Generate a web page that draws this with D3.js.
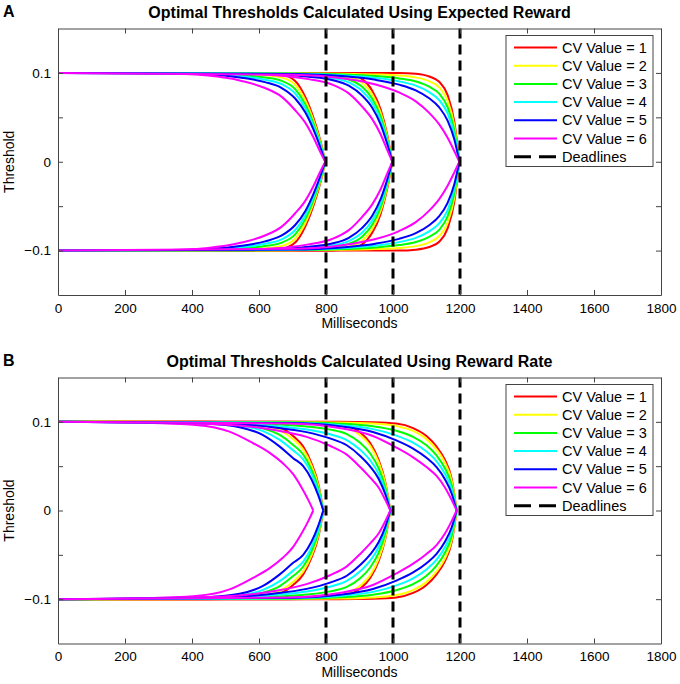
<!DOCTYPE html>
<html>
<head>
<meta charset="utf-8">
<script src="https://cdn.jsdelivr.net/npm/d3@7"></script>
<style>
body { margin: 0; background: #fff; }
text { font-family: "Liberation Sans", Arial, Helvetica, sans-serif; }
</style>
</head>
<body>
<script>
const width = 680
const height = 684

const cvLabels = ["CV Value = 1", "CV Value = 2", "CV Value = 3", "CV Value = 4", "CV Value = 5", "CV Value = 6"]
const cvColors = ["#ff0000", "#ffff00", "#00ff00", "#00ffff", "#0000ff", "#ff00ff"]
const deadlines = [800, 1000, 1200]
const xTicks = [0, 200, 400, 600, 800, 1000, 1200, 1400, 1600, 1800]
const yTicks = [-0.1, -0.05, 0, 0.05, 0.1]
const yLabels = ["\u22120.1", "", "0", "", "0.1"]

// ms before the point where each curve reaches 0
const offsets = [500, 350, 250, 180, 130, 90, 60, 35, 15, 0]

// where the curves meet 0, one row per deadline, one value per CV
const endA = [[798, 798, 798, 798, 798, 798], [998, 998, 998, 998, 998, 998], [1198, 1198, 1198, 1198, 1198, 1198]]
const endB = [[792, 792, 792, 792, 792, 762], [992, 992, 992, 992, 992, 992], [1190, 1190, 1190, 1190, 1190, 1190]]

// upper thresholds (lower ones are the mirror image), panel A
const rewardA800 = [
  [0.1, 0.1, 0.1, 0.0995, 0.098, 0.091, 0.073, 0.049, 0.024, 0],
  [0.0999, 0.0996, 0.0988, 0.0974, 0.0948, 0.0867, 0.0692, 0.0461, 0.0223, 0],
  [0.0999, 0.0992, 0.0975, 0.0949, 0.091, 0.0818, 0.0649, 0.0428, 0.0204, 0],
  [0.0998, 0.0987, 0.0961, 0.0924, 0.0873, 0.0768, 0.0605, 0.0395, 0.0184, 0],
  [0.0997, 0.0982, 0.0946, 0.0896, 0.083, 0.0712, 0.0556, 0.0358, 0.0162, 0],
  [0.0995, 0.097, 0.091, 0.083, 0.073, 0.058, 0.044, 0.027, 0.011, 0]
]
const rewardA1000 = [
  [0.1, 0.1, 0.1, 0.0998, 0.0985, 0.093, 0.080, 0.059, 0.030, 0],
  [0.0999, 0.0997, 0.0991, 0.0981, 0.0957, 0.089, 0.0758, 0.0554, 0.0278, 0],
  [0.0999, 0.0993, 0.098, 0.0962, 0.0925, 0.0843, 0.071, 0.0512, 0.0252, 0],
  [0.0998, 0.0989, 0.097, 0.0943, 0.0893, 0.0797, 0.0662, 0.047, 0.0227, 0],
  [0.0997, 0.0985, 0.0958, 0.0921, 0.0856, 0.0744, 0.0608, 0.0422, 0.0198, 0],
  [0.0995, 0.0975, 0.093, 0.087, 0.077, 0.062, 0.048, 0.031, 0.013, 0]
]
const rewardA1200 = [
  [0.1, 0.1, 0.1, 0.1, 0.099, 0.096, 0.090, 0.075, 0.045, 0],
  [0.0997, 0.0992, 0.0983, 0.0971, 0.095, 0.0907, 0.0838, 0.0688, 0.0407, 0],
  [0.0994, 0.0983, 0.0964, 0.0938, 0.0903, 0.0845, 0.0766, 0.0616, 0.0358, 0],
  [0.0991, 0.0974, 0.0944, 0.0905, 0.0857, 0.0784, 0.0694, 0.0544, 0.0308, 0],
  [0.0988, 0.0964, 0.0922, 0.0868, 0.0804, 0.0714, 0.0612, 0.0462, 0.0252, 0],
  [0.098, 0.094, 0.087, 0.078, 0.068, 0.055, 0.042, 0.027, 0.012, 0]
]

// panel B
const rateB800 = [
  [0.1, 0.1, 0.0995, 0.098, 0.094, 0.084, 0.072, 0.053, 0.030, 0],
  [0.1, 0.0997, 0.0987, 0.096, 0.0907, 0.0803, 0.0687, 0.0503, 0.028, 0],
  [0.0998, 0.0992, 0.0973, 0.0928, 0.0852, 0.074, 0.0632, 0.0458, 0.0248, 0],
  [0.0997, 0.0987, 0.0959, 0.0896, 0.0797, 0.0678, 0.0577, 0.0413, 0.0216, 0],
  [0.0995, 0.098, 0.094, 0.085, 0.072, 0.059, 0.050, 0.035, 0.017, 0],
  [0.099, 0.0965, 0.089, 0.076, 0.065, 0.053, 0.041, 0.026, 0.012, 0]
]
const rateB1000 = [
  [0.1, 0.1, 0.0998, 0.099, 0.096, 0.088, 0.076, 0.057, 0.032, 0],
  [0.0998, 0.0993, 0.0985, 0.0969, 0.0934, 0.0849, 0.0729, 0.0545, 0.0304, 0],
  [0.0991, 0.0973, 0.0948, 0.0912, 0.0861, 0.0763, 0.0643, 0.0477, 0.026, 0],
  [0.0985, 0.0955, 0.0914, 0.086, 0.0795, 0.0685, 0.0565, 0.0415, 0.022, 0],
  [0.098, 0.0939, 0.0884, 0.0813, 0.0736, 0.0615, 0.0495, 0.0359, 0.0184, 0],
  [0.097, 0.091, 0.083, 0.073, 0.063, 0.049, 0.037, 0.026, 0.012, 0]
]
const rateB1200 = [
  [0.1, 0.1, 0.0995, 0.098, 0.093, 0.084, 0.072, 0.057, 0.036, 0],
  [0.0998, 0.0993, 0.098, 0.0953, 0.0897, 0.0805, 0.0687, 0.0539, 0.0336, 0],
  [0.0994, 0.0979, 0.0949, 0.0899, 0.0831, 0.0735, 0.0621, 0.0477, 0.0288, 0],
  [0.099, 0.0965, 0.0918, 0.0845, 0.0765, 0.0665, 0.0555, 0.0415, 0.024, 0],
  [0.0986, 0.0951, 0.0886, 0.0791, 0.0699, 0.0595, 0.0489, 0.0353, 0.0192, 0],
  [0.098, 0.093, 0.084, 0.071, 0.060, 0.049, 0.039, 0.026, 0.012, 0]
]

const svg = d3.select("body").append("svg")
  .attr("width", width)
  .attr("height", height)

let x = d3.scaleLinear().domain([0, 1800]).range([58, 661])

function drawPanel(letter, title, top, bottom, curves, ends) {
  let y = d3.scaleLinear().domain([-0.15, 0.15]).range([bottom, top])
  let g = svg.append("g")

  let line = d3.line()
    .x(d => x(d[0]))
    .y(d => y(d[1]))
    .curve(d3.curveMonotoneX)

  curves.forEach((set, di) => {
    set.forEach((vals, ci) => {
      let end = ends[di][ci]
      let pts = [[0, 0.1]].concat(offsets.map((o, i) => [end - o, vals[i]]))
      ;[1, -1].forEach(sign => {
        g.append("path")
          .attr("d", line(pts.map(p => [p[0], sign * p[1]])))
          .attr("fill", "none")
          .attr("stroke", cvColors[ci])
          .attr("stroke-width", 2)
      })
    })
  })

  // deadlines
  g.selectAll(".deadline")
    .data(deadlines).enter()
    .append("line")
    .attr("x1", d => x(d)).attr("x2", d => x(d))
    .attr("y1", top).attr("y2", bottom)
    .attr("stroke", "#000")
    .attr("stroke-width", 3)
    .attr("stroke-dasharray", "10,6")

  // axes box with inward ticks on all sides
  let axisColor = "#444"
  let fmt = d3.format("d")
  let xa = g.append("g").attr("transform", `translate(0,${bottom})`)
    .call(d3.axisBottom(x).tickValues(xTicks).tickSizeInner(-5).tickSizeOuter(0).tickPadding(8).tickFormat(fmt))
  let xt = g.append("g").attr("transform", `translate(0,${top})`)
    .call(d3.axisTop(x).tickValues(xTicks).tickSizeInner(-5).tickSizeOuter(0).tickFormat(""))
  let ya = g.append("g").attr("transform", "translate(58,0)")
    .call(d3.axisLeft(y).tickValues(yTicks).tickSizeInner(-5).tickSizeOuter(0).tickPadding(7)
      .tickFormat((d, i) => yLabels[i]))
  let yr = g.append("g").attr("transform", "translate(661,0)")
    .call(d3.axisRight(y).tickValues(yTicks).tickSizeInner(-5).tickSizeOuter(0).tickFormat(""))
  ;[xa, xt, ya, yr].forEach(a => {
    a.select(".domain").attr("stroke", axisColor)
    a.selectAll(".tick line").attr("stroke", axisColor)
    a.selectAll("text").attr("font-size", 13.5).attr("fill", "#000")
      .attr("font-family", "'Liberation Sans', Arial, sans-serif")
  })

  g.append("text")
    .attr("x", (58 + 661) / 2).attr("y", bottom + 33)
    .attr("text-anchor", "middle").attr("font-size", 14)
    .text("Milliseconds")
  g.append("text")
    .attr("transform", `translate(14,${(top + bottom) / 2}) rotate(-90)`)
    .attr("text-anchor", "middle").attr("font-size", 14)
    .text("Threshold")
  g.append("text")
    .attr("x", (58 + 661) / 2).attr("y", top - 11)
    .attr("text-anchor", "middle").attr("font-size", 16).attr("font-weight", "bold")
    .text(title)
  g.append("text")
    .attr("x", 3).attr("y", top - 12)
    .attr("font-size", 16).attr("font-weight", "bold")
    .text(letter)

  // legend
  let lg = g.append("g").attr("transform", `translate(506,${top + 7})`)
  lg.append("rect")
    .attr("width", 147).attr("height", 131)
    .attr("fill", "#fff").attr("stroke", "#444").attr("stroke-width", 1)
  let items = cvLabels.map((l, i) => ({ label: l, color: cvColors[i], dash: null }))
    .concat([{ label: "Deadlines", color: "#000", dash: "17,8" }])
  items.forEach((it, i) => {
    let yy = 12 + i * 18.2
    lg.append("line")
      .attr("x1", 8).attr("x2", 51).attr("y1", yy).attr("y2", yy)
      .attr("stroke", it.color)
      .attr("stroke-width", it.dash ? 3 : 2)
      .attr("stroke-dasharray", it.dash)
    lg.append("text")
      .attr("x", 56).attr("y", yy + 5)
      .attr("font-size", 14.5)
      .text(it.label)
  })
}

drawPanel("A", "Optimal Thresholds Calculated Using Expected Reward", 28.5, 295,
  [rewardA800, rewardA1000, rewardA1200], endA)
drawPanel("B", "Optimal Thresholds Calculated Using Reward Rate", 377.5, 643.5,
  [rateB800, rateB1000, rateB1200], endB)
</script>
</body>
</html>
